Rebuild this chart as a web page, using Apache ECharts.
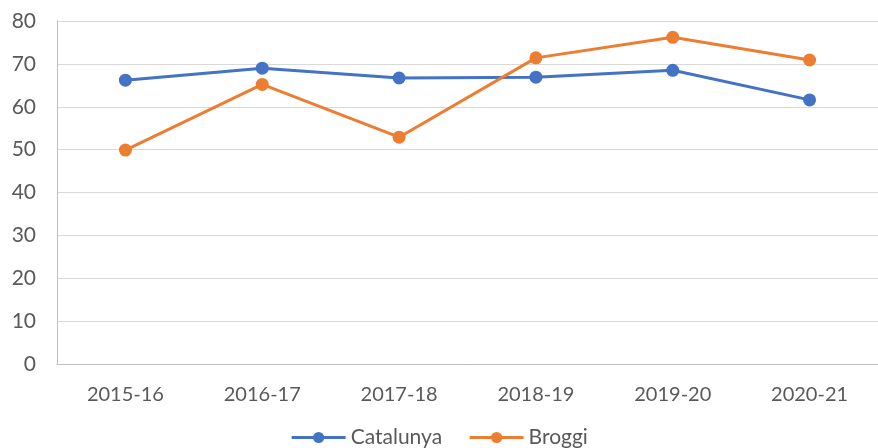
<!DOCTYPE html>
<html>
<head>
<meta charset="utf-8">
<script src="https://cdn.jsdelivr.net/npm/echarts@6/dist/echarts.min.js"></script>
<style>
  html, body { margin: 0; padding: 0; background: #fff; }
  #chart { width: 878px; height: 448px; }
</style>
</head>
<body>
<div id="chart"></div>
<script>
const categories = ['2015-16', '2016-17', '2017-18', '2018-19', '2019-20', '2020-21']
const catalunya = [66.2, 69.0, 66.7, 66.9, 68.5, 61.6]
const broggi = [49.9, 65.2, 52.9, 71.4, 76.2, 70.9]
const yTicks = { min: 0, max: 80, interval: 10 }

const textColor = '#595959'
const font = 'Lato, "Open Sans", sans-serif'

const chart = echarts.init(document.getElementById('chart'))
chart.setOption({
  animation: false,
  textStyle: { fontFamily: font },
  grid: {
    left: 57, // eje vertical
    right: -1,
    top: 21,
    bottom: 84,
  },
  legend: {
    data: ['Catalunya', 'Broggi'],
    bottom: -5,
    left: 'center',
    itemWidth: 54,
    itemHeight: 14,
    itemGap: 26,
    lineStyle: { width: 3 },
    textStyle: { color: textColor, fontSize: 21, fontFamily: font },
  },
  xAxis: {
    type: 'category',
    data: categories,
    axisLine: { show: true, lineStyle: { color: '#bfbfbf', width: 1 } },
    axisTick: { show: false },
    axisLabel: { color: textColor, fontSize: 20, margin: 21 },
  },
  yAxis: {
    type: 'value',
    min: yTicks.min,
    max: yTicks.max,
    interval: yTicks.interval,
    axisLine: { show: true, lineStyle: { color: '#bfbfbf', width: 1 } },
    axisTick: { show: false },
    axisLabel: { color: textColor, fontSize: 21, margin: 21 },
    splitLine: { lineStyle: { color: '#d9d9d9', width: 1 } },
  },
  series: [
    {
      name: 'Catalunya',
      type: 'line',
      data: catalunya,
      symbol: 'circle',
      symbolSize: 13,
      itemStyle: { color: '#4472C4' },
      lineStyle: { color: '#4472C4', width: 3 },
    },
    {
      name: 'Broggi',
      type: 'line',
      data: broggi,
      symbol: 'circle',
      symbolSize: 13,
      itemStyle: { color: '#ED7D31' },
      lineStyle: { color: '#ED7D31', width: 3 },
    },
  ],
})
</script>
</body>
</html>
